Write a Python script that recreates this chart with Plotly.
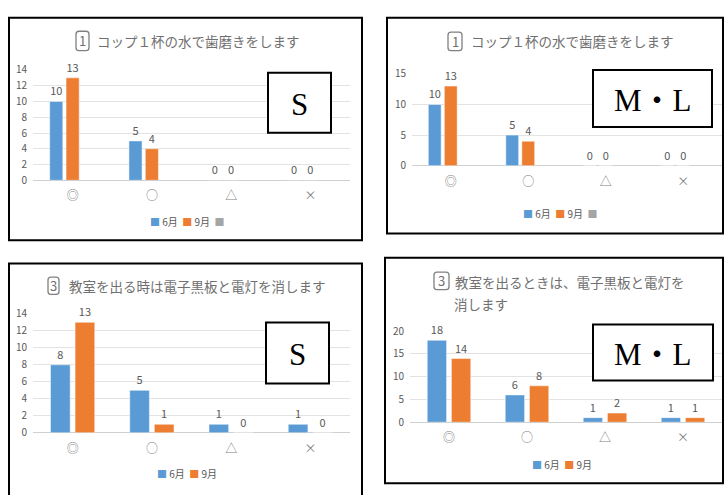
import plotly.graph_objects as go

W, H = 725, 495

categories = ["◎", "○", "△", "×"]
series_names = ["6月", "9月"]

p1_jun = [10, 5, 0, 0]
p1_sep = [13, 4, 0, 0]
p2_jun = [10, 5, 0, 0]
p2_sep = [13, 4, 0, 0]
p3_jun = [8, 5, 1, 1]
p3_sep = [13, 1, 0, 0]
p4_jun = [18, 6, 1, 1]
p4_sep = [14, 8, 2, 1]

title_q1 = "コップ１杯の水で歯磨きをします"
title_q3_s = "教室を出る時は電子黒板と電灯を消します"
title_q3_ml_1 = "教室を出るときは、電子黒板と電灯を"
title_q3_ml_2 = "消します"
group_s = "S"
group_ml = "M・L"

BLUE = "#5B9BD5"
ORANGE = "#ED7D31"
GRAY = "#A5A5A5"
TXT = "#595959"
FONT = "Noto Sans CJK JP"
SERIF = "Liberation Serif, Noto Sans CJK JP"


def px(x):
    return x / W


def py(y):
    return 1 - y / H


panels = [
    dict(data=(p1_jun, p1_sep), x0=33, x1=350, yt=63, yb=177, ymax=14, dtick=2, empty=True),
    dict(data=(p2_jun, p2_sep), x0=412, x1=722, yt=67, yb=162, ymax=15, dtick=5, empty=True),
    dict(data=(p3_jun, p3_sep), x0=33, x1=350, yt=315, yb=438, ymax=14, dtick=2, empty=False),
    dict(data=(p4_jun, p4_sep), x0=410, x1=722, yt=333, yb=427, ymax=20, dtick=5, empty=False),
]

fig = go.Figure()
layout = {}
for i, p in enumerate(panels):
    n = "" if i == 0 else str(i + 1)
    xa, ya = "x" + n, "y" + n
    jun, sep = p["data"]
    for vals, name, col in ((jun, series_names[0], BLUE), (sep, series_names[1], ORANGE)):
        fig.add_trace(go.Bar(
            x=categories, y=vals, name=name, xaxis=xa, yaxis=ya,
            marker=dict(color=col, line=dict(color="rgba(255,255,255,0.6)", width=0.8)),
            text=vals, textposition="outside", cliponaxis=False,
            textfont=dict(family=FONT, size=11, color=TXT),
            showlegend=False,
        ))
    if p["empty"]:
        fig.add_trace(go.Bar(
            x=categories, y=[None] * 4, name=" ", xaxis=xa, yaxis=ya,
            marker=dict(color=GRAY), showlegend=False,
        ))
    layout["xaxis" + n] = dict(
        domain=[px(p["x0"]), px(p["x1"])], anchor=ya, showgrid=False,
        showline=False, zeroline=False, ticks="", fixedrange=True,
        tickfont=dict(family=FONT, size=12, color="#7F7F7F"),
        ticklabelstandoff=7,
    )
    layout["yaxis" + n] = dict(
        domain=[py(p["yb"]), py(p["yt"])], anchor=xa, range=[0, p["ymax"]],
        dtick=p["dtick"], tick0=0, showgrid=True, gridcolor="#E3E3E3", gridwidth=1,
        zeroline=True, zerolinecolor="#D0D0D0", zerolinewidth=1,
        showline=False, ticks="", fixedrange=True,
        tickfont=dict(family=FONT, size=10, color=TXT),
        ticklabelstandoff=5,
    )

shapes = []
annotations = []

for (x0, y0, x1, y1) in [(9, 9, 362, 239), (387, 9, 723, 232), (9, 263, 362, 520), (385, 257, 723, 490)]:
    shapes.append(dict(type="rect", xref="paper", yref="paper", x0=px(x0), x1=px(x1),
                       y0=py(y1), y1=py(y0), line=dict(color="black", width=2), layer="below"))

for (x0, y0, x1, y1, label) in [(268, 66, 331, 128, group_s), (593, 63, 712, 122, group_ml),
                                (266, 324, 329, 387, group_s), (593, 326, 713, 384, group_ml)]:
    shapes.append(dict(type="rect", xref="paper", yref="paper", x0=px(x0), x1=px(x1),
                       y0=py(y1), y1=py(y0), line=dict(color="black", width=2),
                       fillcolor="white", layer="above"))
    annotations.append(dict(xref="paper", yref="paper", x=px((x0 + x1) / 2), y=py((y0 + y1) / 2 + 2),
                            text=label, showarrow=False, xanchor="center", yanchor="middle",
                            font=dict(family=SERIF, size=31, color="black")))


def rounded_box(x0, y0, x1, y1, r=3):
    # path in paper coords
    def P(x, y):
        return f"{px(x)},{py(y)}"
    d = (f"M {P(x0 + r, y0)} L {P(x1 - r, y0)} Q {P(x1, y0)} {P(x1, y0 + r)} "
         f"L {P(x1, y1 - r)} Q {P(x1, y1)} {P(x1 - r, y1)} L {P(x0 + r, y1)} "
         f"Q {P(x0, y1)} {P(x0, y1 - r)} L {P(x0, y0 + r)} Q {P(x0, y0)} {P(x0 + r, y0)} Z")
    shapes.append(dict(type="path", xref="paper", yref="paper", path=d,
                       line=dict(color="#808080", width=1.3)))


def boxed_num(num, x0, y0, x1, y1):
    rounded_box(x0, y0, x1, y1)
    annotations.append(dict(xref="paper", yref="paper", x=px((x0 + x1) / 2), y=py((y0 + y1) / 2),
                            text=num, showarrow=False, xanchor="center", yanchor="middle",
                            font=dict(family=FONT, size=13, color="#707070")))


def title_text(txt, xl, yc):
    annotations.append(dict(xref="paper", yref="paper", x=px(xl), y=py(yc), text=txt,
                            showarrow=False, xanchor="left", yanchor="middle",
                            font=dict(family=FONT, size=13.5, color="#707070")))


boxed_num("1", 76, 23, 89, 43)
title_text(title_q1, 95, 33)
boxed_num("1", 448, 24, 462, 43)
title_text(title_q1, 469, 33)
boxed_num("3", 48, 277, 59, 295)
title_text(title_q3_s, 67, 286)
boxed_num("3", 434, 272, 449, 290)
title_text(title_q3_ml_1, 453, 282)
title_text(title_q3_ml_2, 452, 305)


def legend_ann(xc, yc, with_empty):
    parts = [f"<span style='color:{BLUE}'>■</span> {series_names[0]}",
             f"<span style='color:{ORANGE}'>■</span> {series_names[1]}"]
    if with_empty:
        parts.append(f"<span style='color:{GRAY}'>■</span>")
    annotations.append(dict(xref="paper", yref="paper", x=px(xc), y=py(yc), text="  ".join(parts),
                            showarrow=False, xanchor="center", yanchor="middle",
                            font=dict(family=FONT, size=10, color=TXT)))


legend_ann(187, 220, True)
legend_ann(560, 211, True)
legend_ann(187, 480, False)
legend_ann(562, 471, False)

fig.update_layout(
    width=W, height=H, margin=dict(l=0, r=0, t=0, b=0),
    paper_bgcolor="white", plot_bgcolor="white",
    barmode="group", bargap=0.38, bargroupgap=0.2,
    showlegend=False, shapes=shapes, annotations=annotations,
    font=dict(family=FONT, color=TXT),
    **layout,
)

fig.write_html("out.html")
